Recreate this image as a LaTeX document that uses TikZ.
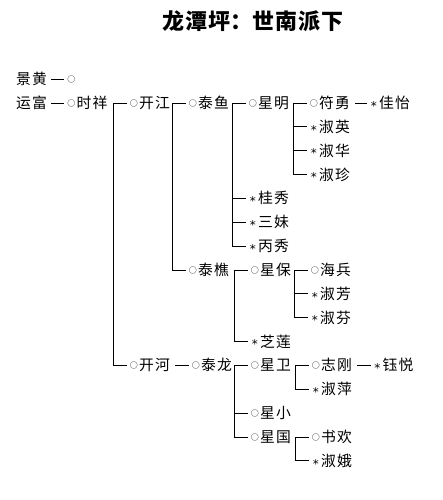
\documentclass[tikz,border=0pt]{standalone}
\usepackage{fontspec}
\newfontfamily\cjk{Noto Sans CJK SC}
\newfontfamily\djv{DejaVu Sans}
\newcommand\ry[1]{103+23.85*(#1)}
\newcommand\mo{\makebox[10.5pt][c]{\raisebox{2.2pt}{\fontsize{8}{8}\selectfont ○}}}
\newcommand\mx{\makebox[10.5pt][c]{\raisebox{-1.8pt}{\djv\fontsize{12}{12}\selectfont *}}}
\newcommand\tw[2]{#1\kern1.2pt#2}
\tikzset{
  nm/.style={anchor=west, inner sep=0pt, text height=11.5pt, text depth=0.5pt,
    font=\cjk\fontsize{14.8}{15}\selectfont, text=black},
  ln/.style={draw=black, line width=0.75pt},
  ttl/.style={inner sep=0pt, font=\cjk\bfseries\fontsize{22}{22}\selectfont}
}
\begin{document}
\begin{tikzpicture}[x=1pt,y=-1pt]
\useasboundingbox (0,0) rectangle (443,500);
\node[ttl] (title) at (253,21) {龙\kern1pt 潭\kern1pt 坪：世\kern1pt 南\kern1pt 派\kern1pt 下};
% row -1
\node[nm] (jh) at (16,{\ry{-1}}) {\tw 景黄};
\node[nm] (c0) at (66,{\ry{-1}}) {\mo};
% row 0 chain
\node[nm] (yf) at (16,{\ry{0}}) {\tw 运富};
\node[nm] (sx) at (66,{\ry{0}}) {\mo\tw 时祥};
\node[nm] (kj) at (128.5,{\ry{0}}) {\mo\tw 开江};
\node[nm] (ty) at (187.5,{\ry{0}}) {\mo\tw 泰鱼};
\node[nm] (xm) at (247.5,{\ry{0}}) {\mo\tw 星明};
\node[nm] (fy) at (308.5,{\ry{0}}) {\mo\tw 符勇};
\node[nm] (jy) at (368.5,{\ry{0}}) {\mx\tw 佳怡};
\node[nm] (xy) at (308.5,{\ry{1}}) {\mx\tw 淑英};
\node[nm] (xh) at (308.5,{\ry{2}}) {\mx\tw 淑华};
\node[nm] (xz) at (308.5,{\ry{3}}) {\mx\tw 淑珍};
\node[nm] (gx) at (247.5,{\ry{4}}) {\mx\tw 桂秀};
\node[nm] (sm) at (247.5,{\ry{5}}) {\mx\tw 三妹};
\node[nm] (bx) at (247.5,{\ry{6}}) {\mx\tw 丙秀};
\node[nm] (tq) at (187.5,{\ry{7}}) {\mo\tw 泰樵};
\node[nm] (xb) at (249.5,{\ry{7}}) {\mo\tw 星保};
\node[nm] (hb) at (309.5,{\ry{7}}) {\mo\tw 海兵};
\node[nm] (xf) at (309.5,{\ry{8}}) {\mx\tw 淑芳};
\node[nm] (xfe) at (309.5,{\ry{9}}) {\mx\tw 淑芬};
\node[nm] (zl) at (249.5,{\ry{10}}) {\mx\tw 芝莲};
\node[nm] (kh) at (128.5,{\ry{11}}) {\mo\tw 开河};
\node[nm] (tl) at (190.5,{\ry{11}}) {\mo\tw 泰龙};
\node[nm] (xw) at (249.5,{\ry{11}}) {\mo\tw 星卫};
\node[nm] (zg) at (310.5,{\ry{11}}) {\mo\tw 志刚};
\node[nm] (yy) at (372,{\ry{11}}) {\mx\tw 钰悦};
\node[nm] (xp) at (310.5,{\ry{12}}) {\mx\tw 淑萍};
\node[nm] (xx) at (249.5,{\ry{13}}) {\mo\tw 星小};
\node[nm] (xg) at (249.5,{\ry{14}}) {\mo\tw 星国};
\node[nm] (sh) at (310.5,{\ry{14}}) {\mo\tw 书欢};
\node[nm] (ed) at (310.5,{\ry{15}}) {\mx\tw 淑娥};
% inline dashes
\draw[ln] ([xshift=4pt]jh.east) -- ([xshift=-2pt]c0.west);
\draw[ln] ([xshift=4pt]yf.east) -- ([xshift=-2pt]sx.west);
\draw[ln] ([xshift=5pt]fy.east) -- ([xshift=-1.5pt]jy.west);
\draw[ln] ([xshift=5pt]kh.east) -- ([xshift=-1.5pt]tl.west);
\draw[ln] ([xshift=5pt]zg.east) -- ([xshift=-1.5pt]yy.west);
% tree branches
\draw[ln] ([xshift=-1.5pt]kj.west) -- ++(-14,0) |- ([xshift=-1.5pt]kh.west);
\draw[ln] ([xshift=-1.5pt]ty.west) -- ++(-14,0) |- ([xshift=-1.5pt]tq.west);
\draw[ln] ([xshift=-1.5pt]xm.west) -- ++(-14,0) |- ([xshift=-1.5pt]bx.west);
\draw[ln] ([xshift=-1.5pt]gx.west) -- ++(-14,0);
\draw[ln] ([xshift=-1.5pt]sm.west) -- ++(-14,0);
\draw[ln] ([xshift=-1.5pt]fy.west) -- ++(-14,0) |- ([xshift=-1.5pt]xz.west);
\draw[ln] ([xshift=-1.5pt]xy.west) -- ++(-14,0);
\draw[ln] ([xshift=-1.5pt]xh.west) -- ++(-14,0);
\draw[ln] ([xshift=-1.5pt]xb.west) -- ++(-14,0) |- ([xshift=-1.5pt]zl.west);
\draw[ln] ([xshift=-1.5pt]hb.west) -- ++(-14,0) |- ([xshift=-1.5pt]xfe.west);
\draw[ln] ([xshift=-1.5pt]xf.west) -- ++(-14,0);
\draw[ln] ([xshift=-1.5pt]xw.west) -- ++(-14,0) |- ([xshift=-1.5pt]xg.west);
\draw[ln] ([xshift=-1.5pt]xx.west) -- ++(-14,0);
\draw[ln] ([xshift=-1.5pt]zg.west) -- ++(-14,0) |- ([xshift=-1.5pt]xp.west);
\draw[ln] ([xshift=-1.5pt]sh.west) -- ++(-14,0) |- ([xshift=-1.5pt]ed.west);
\end{tikzpicture}
\end{document}
